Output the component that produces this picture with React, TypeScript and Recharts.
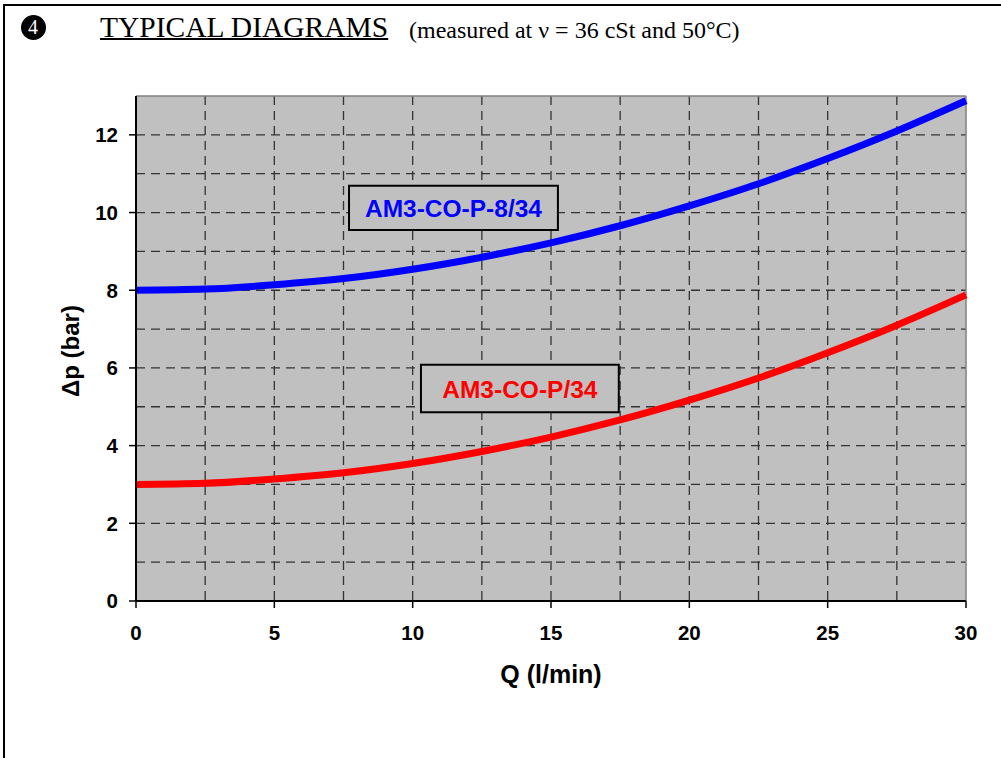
import React from "react";
import {
  LineChart,
  Line,
  XAxis,
  YAxis,
  CartesianGrid,
  ReferenceArea,
  ReferenceLine,
} from "recharts";

const Q_VALUES = [0, 2.5, 5, 7.5, 10, 12.5, 15, 17.5, 20, 22.5, 25, 27.5, 30];
const P34_VALUES = [3.0, 3.03, 3.14, 3.3, 3.54, 3.85, 4.22, 4.66, 5.17, 5.74, 6.39, 7.1, 7.88];
const P834_VALUES = [8.0, 8.03, 8.14, 8.3, 8.54, 8.85, 9.22, 9.66, 10.17, 10.74, 11.39, 12.1, 12.88];

const X_TICKS = [0, 5, 10, 15, 20, 25, 30];
const Y_TICKS = [0, 2, 4, 6, 8, 10, 12];
const X_GRID = [2.5, 5, 7.5, 10, 12.5, 15, 17.5, 20, 22.5, 25, 27.5];
const Y_GRID = [1, 2, 3, 4, 5, 6, 7, 8, 9, 10, 11, 12];

const LABEL_P834 = { text: "AM3-CO-P-8/34", x1: 7.7, x2: 15.25, y1: 9.55, y2: 10.69 };
const LABEL_P34 = { text: "AM3-CO-P/34", x1: 10.3, x2: 17.45, y1: 4.86, y2: 6.08 };

const data = Q_VALUES.map((q, i) => ({ q, p34: P34_VALUES[i], p834: P834_VALUES[i] }));

const BoxLabel = (color: string, text: string) => (props: any) => {
  const vb = props.viewBox || {};
  const cx = vb.x + vb.width / 2;
  const cy = vb.y + vb.height / 2;
  return (
    <text
      x={cx}
      y={cy + 1}
      textAnchor="middle"
      dominantBaseline="central"
      fill={color}
      fontFamily="Liberation Sans, Arial, sans-serif"
      fontWeight="bold"
      fontSize={24.5}
    >
      {text}
    </text>
  );
};

const tickStyle = {
  fill: "#000",
  fontFamily: "Liberation Sans, Arial, sans-serif",
  fontWeight: "bold",
  fontSize: 20.5,
};

export default function App() {
  return (
    <div
      style={{
        position: "absolute",
        left: 0,
        top: 0,
        width: 1001,
        height: 758,
        background: "#fff",
        overflow: "hidden",
      }}
    >
      <div
        style={{
          position: "absolute",
          left: 3,
          top: 4,
          width: 1001,
          height: 758,
          borderLeft: "2px solid #000",
          borderTop: "2px solid #000",
        }}
      />
      <div
        style={{
          position: "absolute",
          left: 20.5,
          top: 14.5,
          width: 25,
          height: 25,
          borderRadius: "50%",
          background: "#000",
          color: "#fff",
          fontFamily: "Liberation Serif, Times New Roman, serif",
          fontSize: 20,
          lineHeight: "25px",
          textAlign: "center",
        }}
      >
        4
      </div>
      <div
        style={{
          position: "absolute",
          left: 100,
          top: 10,
          fontFamily: "Liberation Serif, Times New Roman, serif",
          fontSize: 29.5,
          lineHeight: "34px",
          textDecoration: "underline",
          textDecorationThickness: 2,
          whiteSpace: "nowrap",
          color: "#000",
        }}
      >
        TYPICAL DIAGRAMS
      </div>
      <div
        style={{
          position: "absolute",
          left: 409,
          top: 16,
          fontFamily: "Liberation Serif, Times New Roman, serif",
          fontSize: 24,
          lineHeight: "28px",
          whiteSpace: "nowrap",
          color: "#000",
        }}
      >
        (measured at ν = 36 cSt and 50°C)
      </div>
      <div
        style={{
          position: "absolute",
          left: 551,
          top: 674,
          transform: "translate(-50%, -50%)",
          fontFamily: "Liberation Sans, Arial, sans-serif",
          fontWeight: "bold",
          fontSize: 25,
          whiteSpace: "nowrap",
          color: "#000",
        }}
      >
        Q (l/min)
      </div>
      <div
        style={{
          position: "absolute",
          left: 71,
          top: 351,
          transform: "translate(-50%, -50%) rotate(-90deg)",
          fontFamily: "Liberation Sans, Arial, sans-serif",
          fontWeight: "bold",
          fontSize: 24,
          whiteSpace: "nowrap",
          color: "#000",
        }}
      >
        Δp (bar)
      </div>
      <div style={{ position: "absolute", left: 0, top: 0 }}>
        <LineChart
          width={1001}
          height={758}
          data={data}
          margin={{ top: 96, right: 35, bottom: 127, left: 76 }}
        >
          <CartesianGrid
            fill="#c0c0c0"
            fillOpacity={1}
            stroke="#333"
            strokeWidth={1.3}
            strokeDasharray="9 6"
            horizontalValues={Y_GRID}
            verticalValues={X_GRID}
          />
          <XAxis
            type="number"
            dataKey="q"
            domain={[0, 30]}
            ticks={X_TICKS}
            interval={0}
            tick={tickStyle}
            tickSize={7}
            tickMargin={17}
            height={30}
            axisLine={{ stroke: "#000", strokeWidth: 2 }}
            tickLine={{ stroke: "#000", strokeWidth: 1.5 }}
          />
          <YAxis
            type="number"
            domain={[0, 13]}
            ticks={Y_TICKS}
            interval={0}
            tick={tickStyle}
            tickSize={7}
            tickMargin={11}
            width={60}
            axisLine={{ stroke: "#000", strokeWidth: 2 }}
            tickLine={{ stroke: "#000", strokeWidth: 1.5 }}
          />
          <ReferenceLine y={13} stroke="#808080" strokeWidth={1.5} />
          <ReferenceLine x={30} stroke="#808080" strokeWidth={1.5} />
          <ReferenceArea
            x1={LABEL_P834.x1}
            x2={LABEL_P834.x2}
            y1={LABEL_P834.y1}
            y2={LABEL_P834.y2}
            fill="#c0c0c0"
            fillOpacity={1}
            stroke="#000"
            strokeWidth={2}
            label={BoxLabel("#0000ff", LABEL_P834.text)}
          />
          <ReferenceArea
            x1={LABEL_P34.x1}
            x2={LABEL_P34.x2}
            y1={LABEL_P34.y1}
            y2={LABEL_P34.y2}
            fill="#c0c0c0"
            fillOpacity={1}
            stroke="#000"
            strokeWidth={2}
            label={BoxLabel("#ff0000", LABEL_P34.text)}
          />
          <Line
            type="monotone"
            dataKey="p834"
            stroke="#0000ff"
            strokeWidth={7}
            dot={false}
            isAnimationActive={false}
          />
          <Line
            type="monotone"
            dataKey="p34"
            stroke="#ff0000"
            strokeWidth={7}
            dot={false}
            isAnimationActive={false}
          />
        </LineChart>
      </div>
    </div>
  );
}
